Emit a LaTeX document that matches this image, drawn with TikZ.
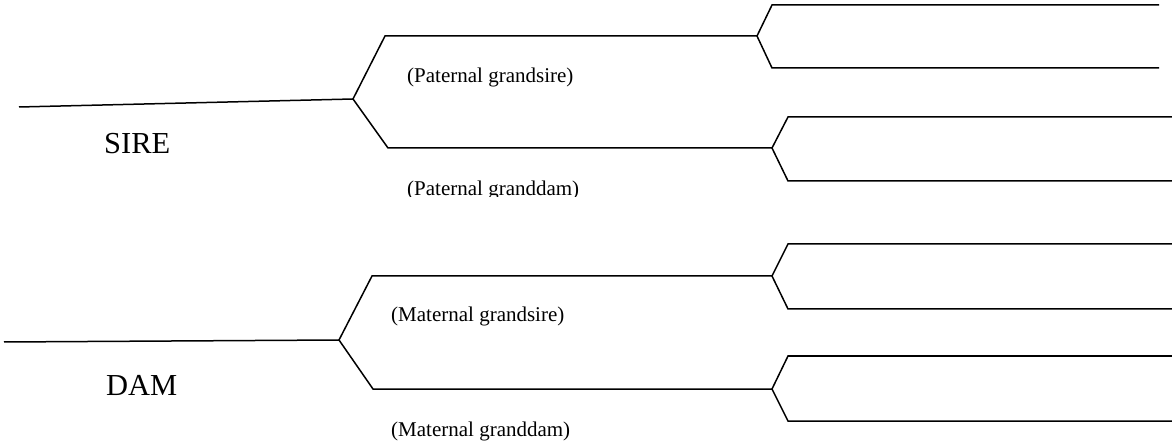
\documentclass[tikz,border=0pt]{standalone}
\usepackage{fontspec}
\setmainfont{Liberation Serif}
\begin{document}
\begin{tikzpicture}[x=1pt,y=-1pt,
  wire/.style={line width=1.5pt,line join=miter},
  small/.style={inner sep=0pt,anchor=base west,font=\fontsize{21}{24}\selectfont},
  big/.style={inner sep=0pt,anchor=base west,font=\fontsize{30.5}{34}\selectfont}]
\useasboundingbox (0,0) rectangle (1172,443);
% sire branch
\coordinate (s0) at (19,107);
\coordinate (sA) at (353,99);
\coordinate (pgsL) at (385,36);
\coordinate (pgsR) at (757,36);
\coordinate (pgdL) at (388,148);
\coordinate (pgdR) at (772,148);
% dam branch
\coordinate (d0) at (4,342);
\coordinate (dA) at (339,340);
\coordinate (mgsL) at (372,276);
\coordinate (mgsR) at (772,276);
\coordinate (mgdL) at (373,389);
\coordinate (mgdR) at (772,389);
% great-grandparents
\coordinate (b1L) at (772,5);   \coordinate (b1R) at (1159,5);
\coordinate (b2L) at (772,68);  \coordinate (b2R) at (1159,68);
\coordinate (c1L) at (788,117); \coordinate (c1R) at (1172,117);
\coordinate (c2L) at (788,181); \coordinate (c2R) at (1172,181);
\coordinate (e1L) at (788,244); \coordinate (e1R) at (1172,244);
\coordinate (e2L) at (788,309); \coordinate (e2R) at (1172,309);
\coordinate (f1L) at (788,356); \coordinate (f1R) at (1172,356);
\coordinate (f2L) at (788,421); \coordinate (f2R) at (1172,421);

\draw[wire] (s0) -- (sA);
\draw[wire] (pgsR) -- (pgsL) -- (sA) -- (pgdL) -- (pgdR);
\draw[wire] (b1R) -- (b1L) -- (pgsR) -- (b2L) -- (b2R);
\draw[wire] (c1R) -- (c1L) -- (pgdR) -- (c2L) -- (c2R);

\draw[wire] (d0) -- (dA);
\draw[wire] (mgsR) -- (mgsL) -- (dA) -- (mgdL) -- (mgdR);
\draw[wire] (e1R) -- (e1L) -- (mgsR) -- (e2L) -- (e2R);
\draw[wire] (f1R) -- (f1L) -- (mgdR) -- (f2L) -- (f2R);

\node[big] (sire) at (104,154) {SIRE};
\node[big] (dam) at (106,395) {DAM};
\node[small] (pgs) at (407,83) {(Paternal grandsire)};
\begin{scope}
\clip (0,0) rectangle (1172,197);
\node[small] (pgd) at (407,196) {(Paternal granddam)};
\end{scope}
\node[small] (mgs) at (391,322) {(Maternal grandsire)};
\node[small] (mgd) at (391,436) {(Maternal granddam)};
\end{tikzpicture}
\end{document}
